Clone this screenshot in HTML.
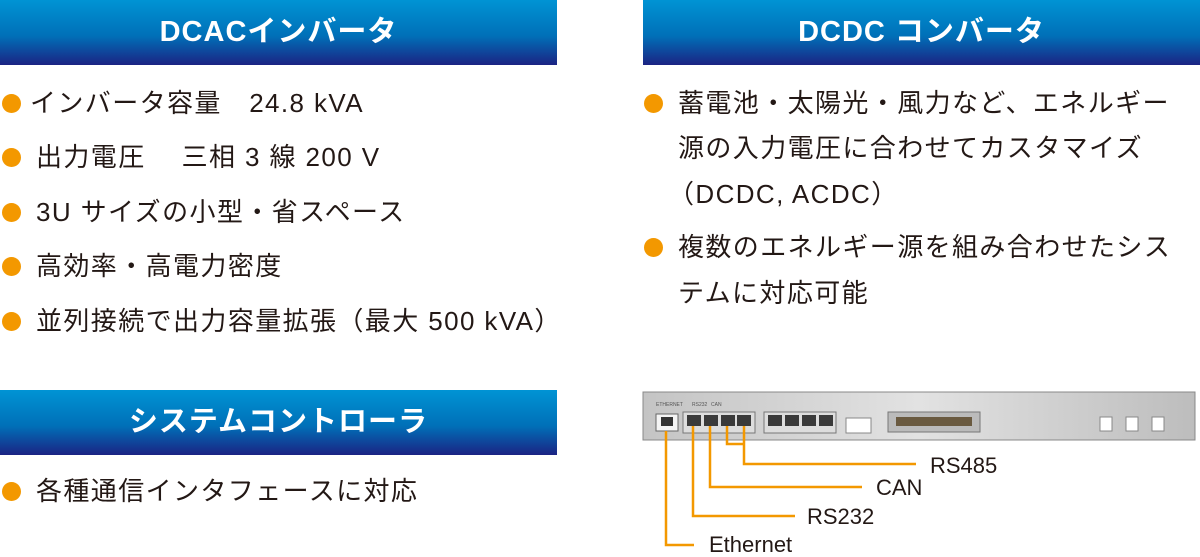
<!DOCTYPE html>
<html><head><meta charset="utf-8"><style>
body{margin:0;width:1200px;height:557px;background:#fff;position:relative;overflow:hidden;font-family:"Liberation Sans","Noto Sans CJK JP",sans-serif;color:#231815}
.h{position:absolute;height:65px;background:linear-gradient(#0094d4,#0070b8 55%,#1b2383);color:#fff;font-size:29px;font-weight:bold;text-align:center;line-height:65px;letter-spacing:1px}
.t{position:absolute;font-size:26px;white-space:nowrap;line-height:30px;letter-spacing:1.4px}
.d{position:absolute;width:19px;height:19px;border-radius:50%;background:#f39800}
</style></head><body>
<div class="h" style="left:0;top:0;width:557px">DCACインバータ</div>
<div class="h" style="left:643px;top:0;width:557px">DCDC コンバータ</div>
<div class="h" style="left:0;top:390px;width:557px">システムコントローラ</div>

<div class="d" style="left:2px;top:94px"></div><div class="t" style="left:30px;top:88px">インバータ容量　24.8 kVA</div>
<div class="d" style="left:2px;top:148px"></div><div class="t" style="left:36px;top:142px">出力電圧　 三相 3 線 200 V</div>
<div class="d" style="left:2px;top:203px"></div><div class="t" style="left:36px;top:197px">3U サイズの小型・省スペース</div>
<div class="d" style="left:2px;top:257px"></div><div class="t" style="left:36px;top:251px">高効率・高電力密度</div>
<div class="d" style="left:2px;top:312px"></div><div class="t" style="left:36px;top:306px">並列接続で出力容量拡張（最大 500 kVA）</div>
<div class="d" style="left:2px;top:482px"></div><div class="t" style="left:36px;top:476px">各種通信インタフェースに対応</div>

<div class="d" style="left:644px;top:94px"></div><div class="t" style="left:678px;top:88px">蓄電池・太陽光・風力など、エネルギー</div>
<div class="t" style="left:678px;top:133px">源の入力電圧に合わせてカスタマイズ</div>
<div class="t" style="left:668px;top:179px">（DCDC, ACDC）</div>
<div class="d" style="left:644px;top:238px"></div><div class="t" style="left:678px;top:232px">複数のエネルギー源を組み合わせたシス</div>
<div class="t" style="left:678px;top:278px">テムに対応可能</div>

<svg style="position:absolute;left:0;top:0" width="1200" height="557">
<defs><linearGradient id="p" x1="0" x2="1"><stop offset="0" stop-color="#c4c4c4"/><stop offset=".5" stop-color="#e2e2e2"/><stop offset="1" stop-color="#bdbdbd"/></linearGradient></defs>
<rect x="643" y="392" width="552" height="48" fill="url(#p)" stroke="#888"/>
<g fill="#555" font-size="5" font-family="Liberation Sans">
<text x="656" y="406">ETHERNET</text><text x="692" y="406">RS232</text><text x="711" y="406">CAN</text>
</g>
<rect x="656" y="414" width="22" height="17" fill="#f4f4f4" stroke="#666"/><rect x="661" y="417" width="12" height="9" fill="#333"/>
<rect x="683" y="412" width="72" height="21" fill="#ddd" stroke="#777"/>
<rect x="764" y="412" width="72" height="21" fill="#ddd" stroke="#777"/>
<g fill="#3a3a3a">
<rect x="687" y="415" width="14" height="11"/><rect x="704" y="415" width="14" height="11"/><rect x="721" y="415" width="14" height="11"/><rect x="737" y="415" width="14" height="11"/>
<rect x="768" y="415" width="14" height="11"/><rect x="785" y="415" width="14" height="11"/><rect x="802" y="415" width="14" height="11"/><rect x="819" y="415" width="14" height="11"/>
</g>
<rect x="846" y="418" width="25" height="15" fill="#fff" stroke="#888"/>
<rect x="888" y="412" width="92" height="20" fill="#bbb" stroke="#777"/><rect x="896" y="417" width="76" height="9" fill="#6a5a40"/>
<rect x="1100" y="417" width="12" height="14" fill="#fff" stroke="#888"/><rect x="1126" y="417" width="12" height="14" fill="#fff" stroke="#888"/><rect x="1152" y="417" width="12" height="14" fill="#fff" stroke="#888"/>
<g stroke="#f39800" stroke-width="2.5" fill="none">
<path d="M666 431V545H694"/><path d="M693 426V516H795"/><path d="M710 426V487H862"/><path d="M727 426V444H744M744 426V464H916"/>
</g>
<g font-size="22" fill="#231815" font-family="Liberation Sans">
<text x="709" y="552">Ethernet</text><text x="807" y="524">RS232</text><text x="876" y="495">CAN</text><text x="930" y="473">RS485</text>
</g>
</svg>
</body></html>
